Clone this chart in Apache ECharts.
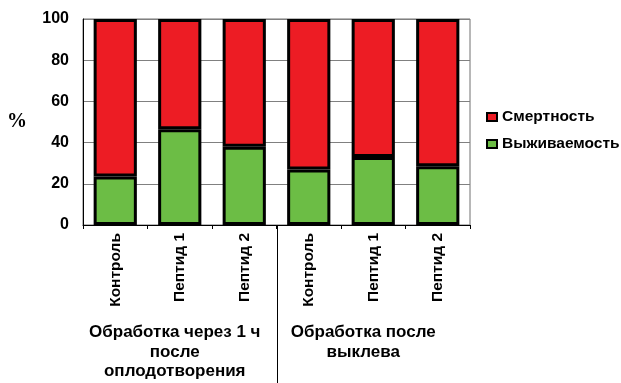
<!DOCTYPE html>
<html>
<head>
<meta charset="utf-8">
<script src="https://cdn.jsdelivr.net/npm/echarts@6/dist/echarts.min.js"></script>
<style>
html,body{margin:0;padding:0;background:#fff;}
#chart{width:621px;height:383px;}
</style>
</head>
<body>
<div id="chart"></div>
<script>
// Categories and stacked percentages
const categories = ['Контроль', 'Пептид 1', 'Пептид 2', 'Контроль', 'Пептид 1', 'Пептид 2'];
const survival = [23.5, 46.5, 38, 27, 33, 28.5];
const mortality = survival.map(v => +(100 - v).toFixed(1));
const groupLabels = ['Обработка через 1 ч\nпосле\nоплодотворения', 'Обработка после\nвыклева'];
const yTicks = [0, 20, 40, 60, 80, 100];

const FONT = '"Liberation Sans", Arial, sans-serif';
const chart = echarts.init(document.getElementById('chart'));

chart.setOption({
  animation: false,
  backgroundColor: '#fff',
  textStyle: { fontFamily: FONT },
  grid: { left: 83, right: 151, top: 19, bottom: 158, containLabel: false, outerBoundsMode: 'none',
    show: true, borderColor: '#707070', borderWidth: 1 },
  legend: {
    orient: 'vertical', left: 481, top: 104,
    itemWidth: 10, itemHeight: 8, itemGap: 11,
    icon: 'rect',
    data: ['Смертность', 'Выживаемость'],
    textStyle: { fontFamily: FONT, fontWeight: 'bold', fontSize: 15.5, color: '#000' }
  },
  xAxis: {
    type: 'category', data: categories,
    axisLine: { lineStyle: { color: '#000', width: 1 } },
    axisTick: { show: true, length: 4, lineStyle: { color: '#000' } },
    axisLabel: { rotate: 90, margin: 8, fontFamily: FONT, fontWeight: 'bold', fontSize: 15.5, color: '#000' }
  },
  yAxis: {
    type: 'value', min: 0, max: 100, interval: 20,
    name: '%', nameLocation: 'middle', nameRotate: 0, nameGap: 56,
    nameTextStyle: { fontFamily: '"Liberation Serif", "Times New Roman", serif', fontWeight: 'bold', fontSize: 20, color: '#000' },
    axisLine: { show: true, lineStyle: { color: '#000', width: 1 } },
    axisTick: { show: false },
    splitLine: { lineStyle: { color: '#808080', width: 1 } },
    axisLabel: { margin: 14, fontFamily: FONT, fontWeight: 'bold', fontSize: 16, color: '#000',
      formatter: v => yTicks.includes(v) ? String(v) : '' }
  },
  series: [
    {
      name: 'Выживаемость', type: 'bar', stack: 'all', data: survival,
      barCategoryGap: '33%',
      itemStyle: { color: '#6CBD45', borderColor: '#000', borderWidth: 3 }
    },
    {
      name: 'Смертность', type: 'bar', stack: 'all', data: mortality,
      barCategoryGap: '33%',
      itemStyle: { color: '#ED1C24', borderColor: '#000', borderWidth: 3 }
    }
  ]
});

// Group separator and group captions placed via the axis scale
function drawGroups() {
  const y0 = chart.convertToPixel({ yAxisIndex: 0 }, 0);
  const c0 = chart.convertToPixel({ xAxisIndex: 0 }, 0);
  const c1 = chart.convertToPixel({ xAxisIndex: 0 }, 1);
  const step = c1 - c0;
  const sepX = Math.round(c0 + 2.5 * step) + 0.5;
  const g1 = c0 + 1 * step - 5;
  const g2 = c0 + 4 * step - 10;
  chart.setOption({
    graphic: [
      { type: 'line', shape: { x1: sepX, y1: y0, x2: sepX, y2: 383 }, style: { stroke: '#000', lineWidth: 1 } },
      { type: 'text', x: g1, y: 323, style: { text: groupLabels[0], align: 'center', font: 'bold 17px ' + FONT, lineHeight: 19.5, fill: '#000' } },
      { type: 'text', x: g2, y: 323, style: { text: groupLabels[1], align: 'center', font: 'bold 17px ' + FONT, lineHeight: 19.5, fill: '#000' } }
    ]
  });
}
drawGroups();
</script>
</body>
</html>
